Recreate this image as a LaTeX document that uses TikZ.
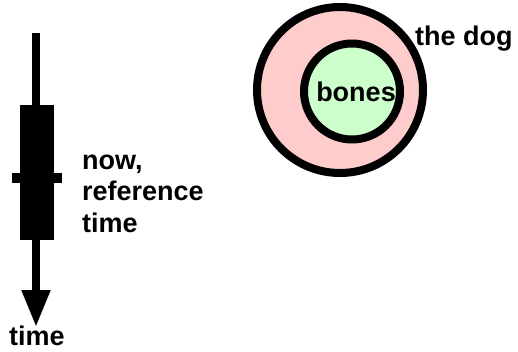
\documentclass[tikz,border=0pt]{standalone}
\usepackage{fontspec}
\setmainfont{Liberation Sans}
\usetikzlibrary{arrows.meta}
\definecolor{dogpink}{RGB}{255,204,204}
\definecolor{bonegreen}{RGB}{204,255,204}
\begin{document}
\begin{tikzpicture}[x=1pt,y=-1pt,
  lbl/.style={inner sep=0pt,font=\fontsize{27}{31.5}\selectfont\bfseries},
  ring/.style={circle,draw=black,line width=8pt,inner sep=0pt}]
\useasboundingbox (0,0) rectangle (518,351);
% timeline
\coordinate (ttop) at (36,33);
\coordinate (ttip) at (36,327);
\draw[line width=8pt,-{Triangle[length=37pt,width=27pt]}] (ttop) -- (ttip);
\node[fill=black,minimum width=34pt,minimum height=135pt,inner sep=0pt] (box) at (37,172.5) {};
\node[fill=black,minimum width=50pt,minimum height=10pt,inner sep=0pt] (tick) at (37,178) {};
\node[lbl,anchor=base west,align=left] (now) at (82,232) {now,\\reference\\time};
\node[lbl,anchor=base] (timelbl) at (37,345) {time};
% circles
\node[ring,fill=dogpink,minimum size=166pt] (dog) at (340,90) {};
\node[ring,fill=bonegreen,minimum size=96pt] (bones) at (352,91.5) {};
\node[lbl,anchor=base] at (356,101) {bones};
\node[lbl,anchor=base west] (doglbl) at (415,45) {the dog};
\end{tikzpicture}
\end{document}
